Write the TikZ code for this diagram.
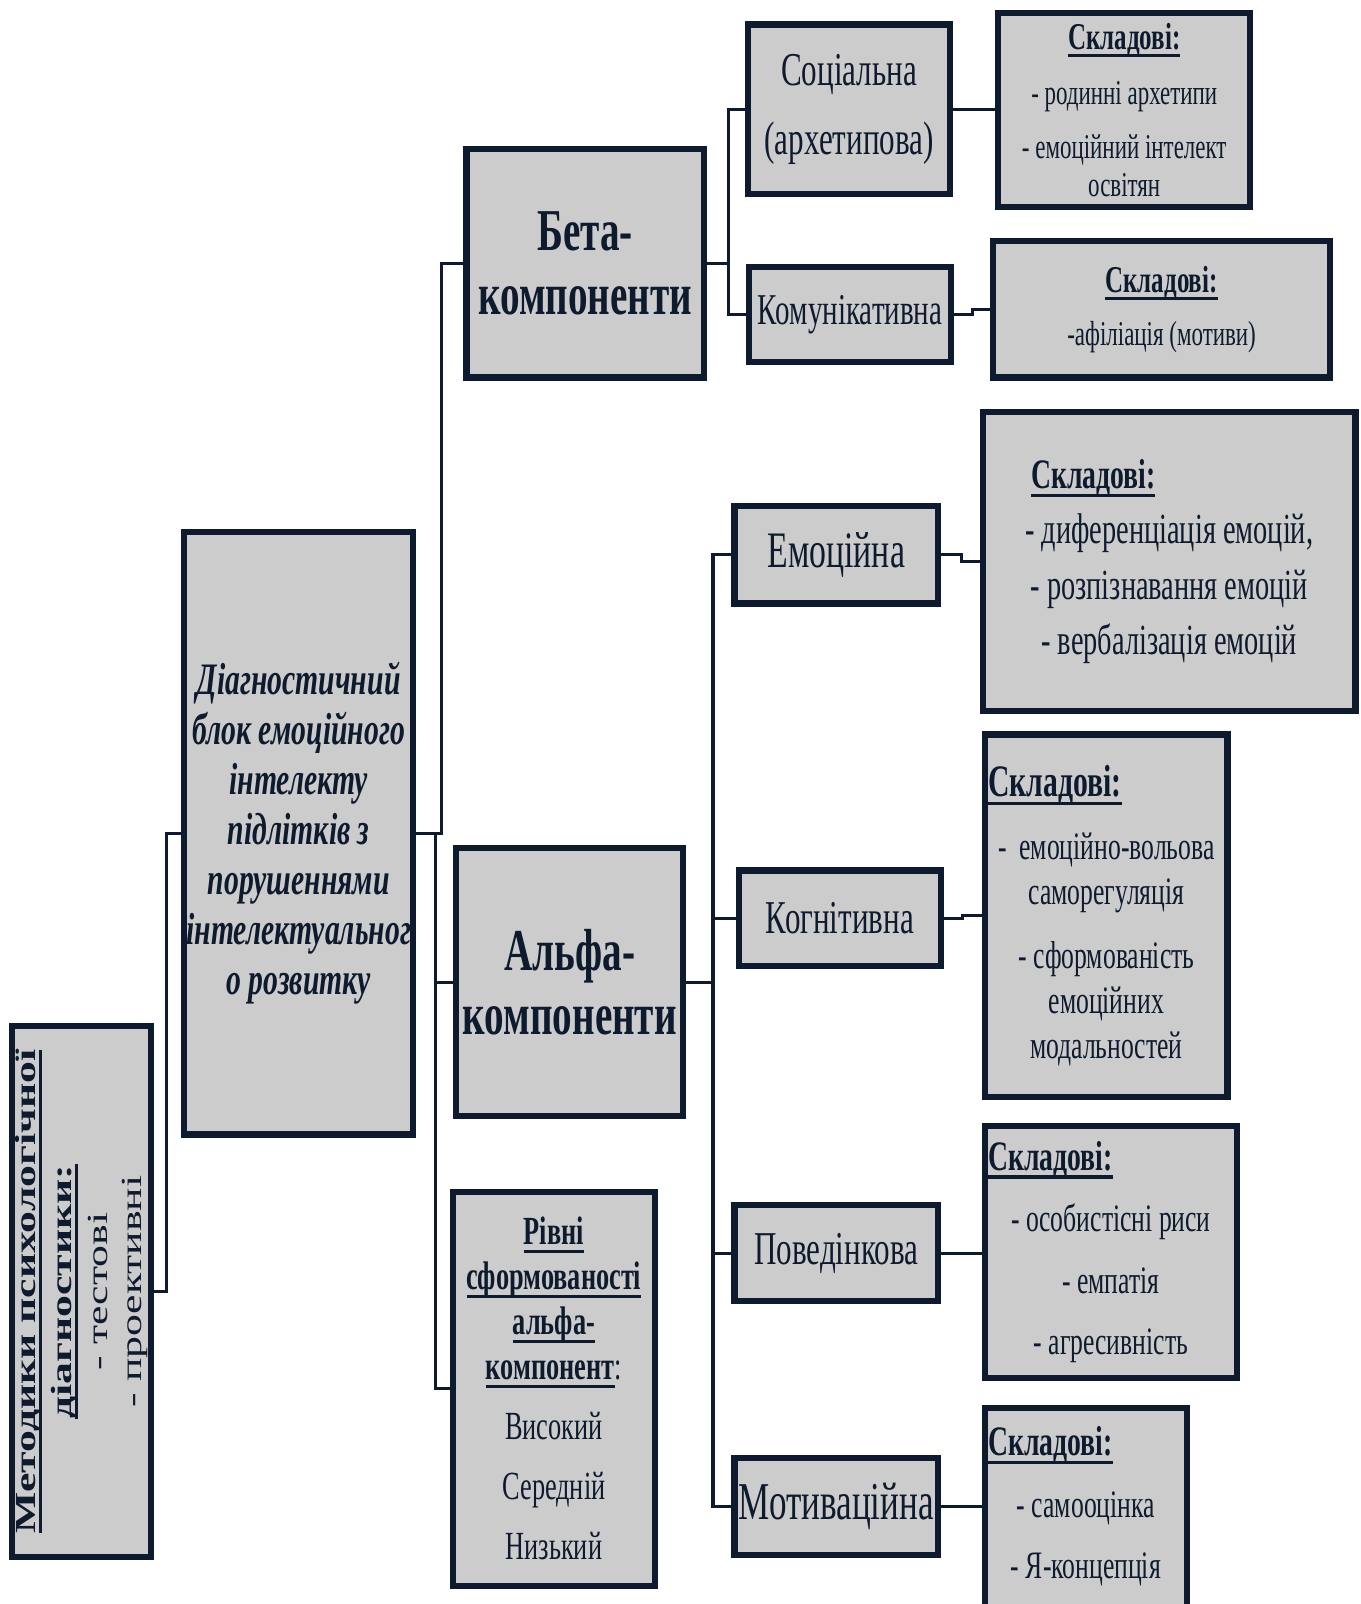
\documentclass[tikz,border=0pt]{standalone}
\usepackage{fontspec}
\usepackage{graphicx}
\setmainfont{Liberation Serif}[FakeStretch=0.66]
\newfontfamily\widefont{Liberation Serif}[FakeStretch=1.5]
\usetikzlibrary{calc}
\definecolor{navy}{HTML}{0E1A2E}
\definecolor{boxgray}{HTML}{CCCCCC}
\newsavebox\ulb
\newcommand\myul[1]{\leavevmode\sbox\ulb{#1}\rlap{\usebox\ulb}\rule[-0.2em]{\wd\ulb}{0.08em}}
\newcommand\fs[2]{\fontsize{#1}{#2}\selectfont}
\begin{document}
\begin{tikzpicture}[x=1pt,y=-1pt,
  box/.style={draw=navy, fill=boxgray, line width=6pt, inner sep=0pt, align=center, text=navy},
  conn/.style={draw=navy, line width=3pt}]
\fill[white] (0,0) rectangle (1330,1568);
\useasboundingbox (0,0) rectangle (1330,1568);

% left column
\node[box, minimum width=130pt, minimum height=519pt] (m) at (80,1262.5)
  {\rotatebox{90}{\widefont\fs{28.5}{33}\color{navy}\begin{tabular}{@{}c@{}}
   {\bfseries\myul{Методики психологічної}}\\[2pt]
   {\bfseries\myul{діагностики:}}\\[2pt]
   - тестові\\
   - проективні
   \end{tabular}}};
\node[box, minimum width=224pt, minimum height=589pt, font=\fs{44}{49}\bfseries\itshape] (d) at (292,814.5)
  {Діагностичний\\блок емоційного\\інтелекту\\підлітків з\\порушеннями\\інтелектуальног\\о розвитку};

% second column
\node[box, minimum width=232pt, minimum height=223pt, font=\fs{58}{62}\bfseries] (beta) at (572,257.5)
  {Бета-\\компоненти};
\node[box, minimum width=222pt, minimum height=262pt, font=\fs{58}{62}\bfseries] (alpha) at (557,960)
  {Альфа-\\компоненти};
\node[box, minimum width=197pt, minimum height=385pt, font=\fs{39}{44}] (lev) at (541.5,1357.5)
  {{\bfseries\myul{Рівні}}\\{\bfseries\myul{сформованості}}\\{\bfseries\myul{альфа-}}\\{\bfseries\myul{компонент}}:\\[14pt]
   Високий\\[15pt]Середній\\[15pt]Низький};

% beta children
\node[box, minimum width=198pt, minimum height=166pt, font=\fs{46}{68}] (soc) at (830,107)
  {Соціальна\\(архетипова)};
\node[box, minimum width=198pt, minimum height=93pt, font=\fs{43}{50}] (com) at (831,307.5)
  {Комунікативна};
\node[box, minimum width=246pt, minimum height=189pt, font=\fs{34}{37}] (socs) at (1099,107.5)
  {{\fs{37}{37}\bfseries\myul{Складові:}}\\[17pt]- родинні архетипи\\[16pt]- емоційний інтелект\\освітян};
\node[box, minimum width=329pt, minimum height=133pt, font=\fs{34}{52}] (coms) at (1135.5,302.5)
  {{\fs{37}{52}\bfseries\myul{Складові:}}\\-афіліація (мотиви)};

% alpha children
\node[box, minimum width=199pt, minimum height=95pt, font=\fs{50}{55}] (emo) at (817.5,542.5)
  {Емоційна};
\node[box, minimum width=198pt, minimum height=93pt, font=\fs{46}{50}] (cog) at (821,897.5)
  {Когнітивна};
\node[box, minimum width=199pt, minimum height=94pt, font=\fs{46}{50}] (beh) at (817.5,1225)
  {Поведінкова};
\node[box, minimum width=199pt, minimum height=95pt, font=\fs{52}{56}] (mot) at (817.5,1472.5)
  {Мотиваційна};

\node[box, minimum width=364pt, minimum height=292pt, font=\fs{42}{54}] (emos) at (1143,549)
  {\makebox[358pt][l]{\hspace{44pt}\fs{41}{54}\bfseries\myul{Складові:}}\\- диференціація емоцій,\\- розпізнавання емоцій\\- вербалізація емоцій};
\node[box, minimum width=237pt, minimum height=354pt, font=\fs{38}{44}] (cogs) at (1081.5,895)
  {\makebox[231pt][l]{\fs{44}{44}\bfseries\myul{Складові:}}\\[18pt]-\ \ емоційно-вольова\\саморегуляція\\[18pt]- сформованість\\емоційних\\модальностей};
\node[box, minimum width=246pt, minimum height=246pt, font=\fs{38}{60}] (behs) at (1086,1224)
  {\makebox[240pt][l]{\fs{41}{60}\bfseries\myul{Складові:}}\\- особистісні риси\\- емпатія\\- агресивність};
\node[box, minimum width=197pt, minimum height=241pt, font=\fs{38}{60}] (mots) at (1061.5,1496.5)
  {\makebox[191pt][l]{\fs{41}{60}\bfseries\myul{Складові:}}\\- самооцінка\\- Я-концепція\rule[-55pt]{0pt}{0pt}};

% connectors
\draw[conn] (m.east) -- ++(12,0) |- (d.west);
\draw[conn] (d.east) -- ++(25,0) |- (beta.west);
\draw[conn] (d.east) -- ++(19,0) |- (alpha.west);
\draw[conn] (d.east) -- ++(19,0) |- (lev.west);
\draw[conn] (beta.east) -- ++(21,0) |- (soc.west);
\draw[conn] (beta.east) -- ++(21,0) |- (com.west);
\draw[conn] (alpha.east) -- ++(26,0) |- (emo.west);
\draw[conn] (alpha.east) -- ++(26,0) |- (cog.west);
\draw[conn] (alpha.east) -- ++(26,0) |- (beh.west);
\draw[conn] (alpha.east) -- ++(26,0) |- (mot.west);
\draw[conn] (soc.east) -- (soc.east -| socs.west);
\draw[conn] (com.east) -- ++(18,0) |- (coms.west);
\draw[conn] (emo.east) -- ++(20,0) |- (emos.west);
\draw[conn] (cog.east) -- ++(18,0) |- (cogs.west);
\draw[conn] (beh.east) -- (beh.east -| behs.west);
\draw[conn] (mot.east) -- (mot.east -| mots.west);
\end{tikzpicture}
\end{document}
